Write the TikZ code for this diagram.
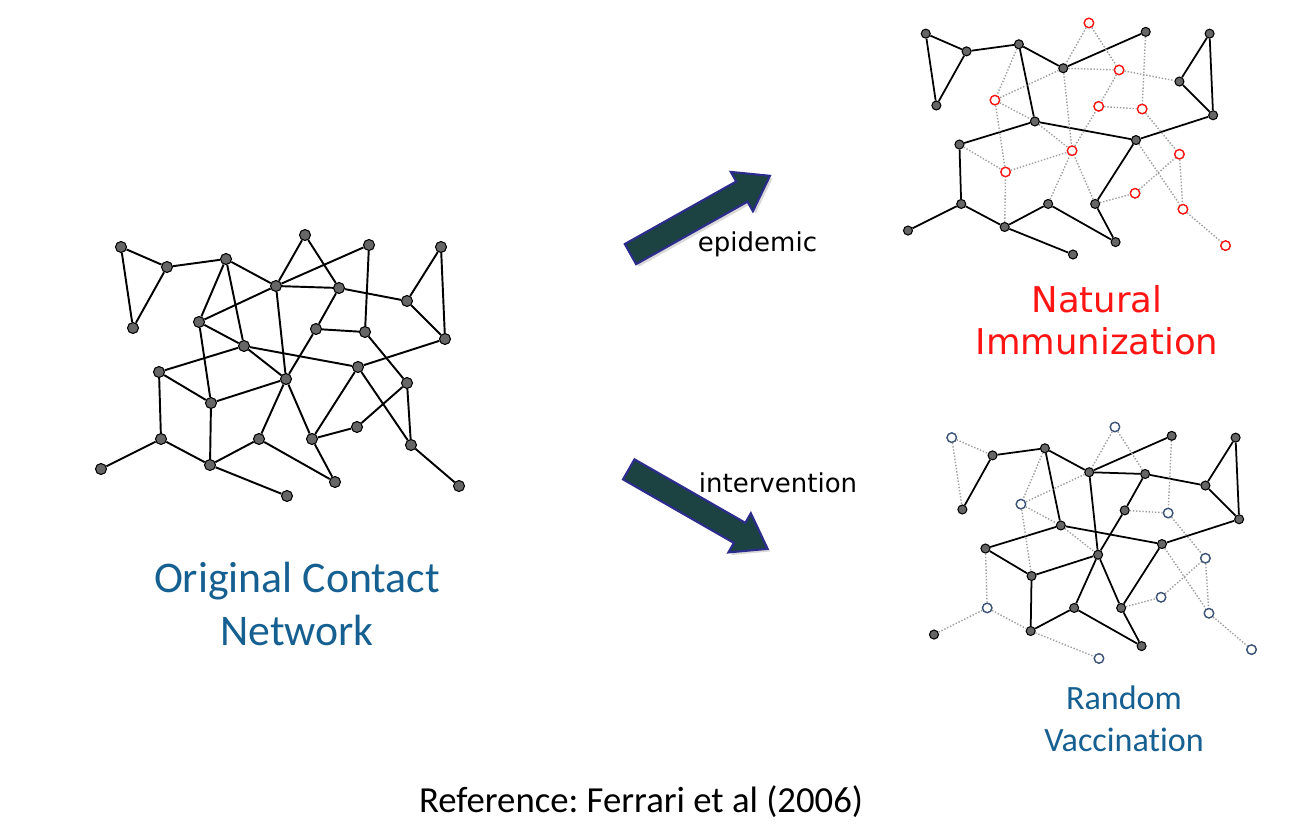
\documentclass[tikz,border=0pt]{standalone}
\usepackage{fontspec}
\setmainfont{Carlito}[Ligatures=NoCommon]
\newfontfamily\verdana{DejaVu Sans}
\usepackage{xcolor}
\usepackage{tikz}
\usetikzlibrary{shapes.arrows,shadows}

\definecolor{netblue}{RGB}{22,96,145}
\definecolor{immred}{RGB}{255,20,20}
\definecolor{vacblue}{RGB}{60,84,120}
\definecolor{dotgray}{RGB}{102,102,102}
\definecolor{arrowfill}{RGB}{28,66,66}
\definecolor{arrowline}{RGB}{44,44,140}

% vertex positions of the contact network (pixels of the left copy)
\newcommand\netpos{1/121/247, 2/167/267, 3/133/328, 4/226/259, 5/305/235,
  6/369/245, 7/441/247, 8/276/286, 9/339/288, 10/407/301, 11/199/322,
  12/316/329, 13/365/332, 14/445/339, 15/244/346, 16/159/372, 17/358/367,
  18/286/379, 19/407/383, 20/211/403, 21/161/439, 22/259/439, 23/312/439,
  24/357/427, 25/411/445, 26/101/469, 27/210/465, 28/335/482, 29/287/496,
  30/459/486}

\tikzset{
  vertex/.style={circle, draw=black, fill=dotgray, inner sep=0pt, minimum size=0.18cm, line width=0.6pt},
  bigvertex/.style={vertex, minimum size=0.22cm},
  immune/.style={circle, draw=immred, fill=white, inner sep=0pt, minimum size=0.19cm, line width=0.8pt},
  vaccinated/.style={immune, draw=vacblue},
  link/.style={line width=1pt},
  cutlink/.style={densely dotted, draw=gray!75, line width=0.8pt},
  bigarrow/.style={single arrow, draw=arrowline, fill=arrowfill, line width=1.2pt, inner xsep=0pt, inner ysep=0.21cm,
    minimum height=3.2cm, minimum width=0.88cm, single arrow head extend=0.22cm, single arrow tip angle=70,
    drop shadow={shadow xshift=1.5pt, shadow yshift=-1.5pt, opacity=0.3}}
}

\begin{document}
\frenchspacing
\begin{tikzpicture}[x=0.02cm, y=-0.02cm]
\useasboundingbox (0,0) rectangle (1294,828);

% original network
\foreach \i/\px/\py in \netpos
  \node[bigvertex] (L\i) at (\px,\py) {};
\foreach \u/\v in {1/2,1/3,2/3,2/4,4/11,4/15,4/8,5/8,5/9,6/8,8/9,8/11,8/18,6/13,9/12,9/10,
    12/13,10/7,10/14,7/14,14/17,15/17,15/18,11/15,16/15,16/20,11/20,20/18,21/16,21/26,21/27,
    27/20,27/22,27/29,22/18,18/12,23/18,23/28,22/28,23/17,23/24,24/19,13/19,19/25,17/25,25/30}
  \draw[link, line width=1.1pt] (L\u) -- (L\v);
\node[text=netblue, align=center, font=\fontsize{24.9}{30.6}\selectfont] (orig) at (297,604) {Original Contact\\Network};

% after the epidemic
\begin{scope}[shift={(818.41,-185.45)}, scale=0.887]
  \foreach \i/\px/\py in \netpos
    \node[vertex] (N\i) at (\px,\py) {};
  \foreach \i in {5,9,11,12,13,18,19,20,24,25,30}
    \node[immune] (N\i) at (N\i) {};
  \foreach \u/\v in {1/2,1/3,2/3,2/4,4/15,4/8,6/8,10/7,10/14,7/14,14/17,15/17,16/15,21/16,
      21/26,21/27,27/22,27/29,23/28,22/28,23/17}
    \draw[link] (N\u) -- (N\v);
  \foreach \u/\v in {4/11,5/8,5/9,8/9,8/11,8/18,6/13,9/12,9/10,12/13,15/18,11/15,16/20,11/20,
      20/18,27/20,22/18,18/12,23/18,23/24,24/19,13/19,19/25,17/25,25/30}
    \draw[cutlink] (N\u) -- (N\v);
\end{scope}
\node[text=immred, align=center, font=\verdana\fontsize{20.2}{23.8}\selectfont] (natural) at (1097,320) {Natural\\Immunization};

% after vaccination
\begin{scope}[shift={(844.41,218.55)}, scale=0.887]
  \foreach \i/\px/\py in \netpos
    \node[vertex] (V\i) at (\px,\py) {};
  \foreach \i in {1,5,11,13,19,21,24,25,29,30}
    \node[vaccinated] (V\i) at (V\i) {};
  \foreach \u/\v in {2/3,2/4,4/15,4/8,6/8,8/9,8/18,9/12,9/10,10/7,10/14,7/14,14/17,15/17,16/15,
      16/20,20/18,27/20,27/22,22/18,18/12,23/18,23/28,22/28,23/17}
    \draw[link] (V\u) -- (V\v);
  \foreach \u/\v in {1/2,1/3,4/11,5/8,5/9,8/11,6/13,12/13,15/18,11/15,11/20,21/16,21/26,21/27,
      27/29,23/24,24/19,13/19,19/25,17/25,25/30}
    \draw[cutlink] (V\u) -- (V\v);
\end{scope}
\node[text=netblue, align=center, font=\fontsize{19.4}{23.8}\selectfont] (random) at (1124,719) {Random\\Vaccination};

% arrows
\node[bigarrow, rotate=29.3] (epiarrow) at (693,219) {};
\node[bigarrow, rotate=-29.8] (intarrow) at (691,505) {};
\node[font=\verdana\fontsize{14.8}{17}\selectfont] (epilabel) at (757.5,244) {epidemic};
\node[font=\verdana\fontsize{14.8}{17}\selectfont] (intlabel) at (778,483) {intervention};

\node[font=\fontsize{20.9}{25}\selectfont] (refnote) at (641,802) {Reference: Ferrari et al (2006)};
\end{tikzpicture}
\end{document}
